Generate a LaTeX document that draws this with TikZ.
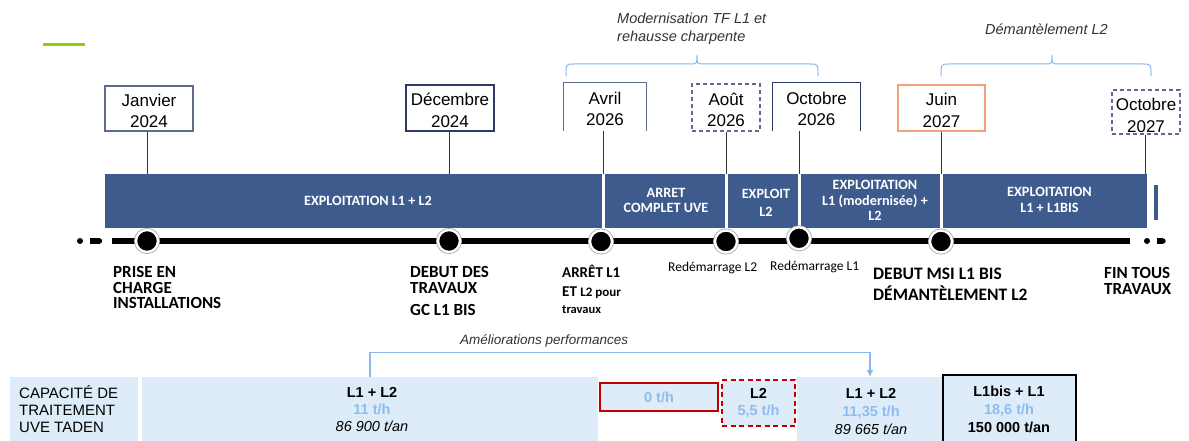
\documentclass[tikz,border=0pt]{standalone}
\usepackage{fontspec}
\setmainfont{Liberation Sans}
\newfontfamily\calib{Carlito}
\usetikzlibrary{arrows.meta}
\newcommand{\myfs}[2]{\fontsize{#1}{#2}\selectfont}
\newcommand{\tstrut}{\rule{0pt}{17.2pt}}
\definecolor{bandblue}{HTML}{3E5B8E}
\definecolor{boxgray}{HTML}{5F6B8E}
\definecolor{boxnavy}{HTML}{2E3968}
\definecolor{orangeb}{HTML}{F2A07C}
\definecolor{cellblue}{HTML}{DEEBF8}
\definecolor{bluetxt}{HTML}{8CBDF2}
\definecolor{bracec}{HTML}{8AB8EC}
\definecolor{redb}{HTML}{C00000}
\definecolor{limeg}{HTML}{99CC00}
\definecolor{itgray}{HTML}{333333}
\begin{document}
\begin{tikzpicture}[x=1pt,y=-1pt,
  datebox/.style={draw=boxgray, line width=1.1pt, inner sep=0, align=center, text=black, font=\myfs{17}{21.5}},
  boxline/.style={draw=boxgray, line width=1.1pt},
  dashbox/.style={dash pattern=on 4pt off 3pt},
  tick/.style={draw=black!80, line width=0.9pt},
  bandtxt/.style={text=white, font=\calib\bfseries\myfs{14.2}{15.5}, align=center, inner sep=0},
  lab/.style={anchor=north west, align=left, inner sep=0, font=\calib\bfseries\myfs{17}{15.5}},
  tcirc/.style={circle, fill=black, minimum size=22, inner sep=0, draw=white, line width=2.4pt,
     preaction={draw=black!35, line width=4pt}},
  brace/.style={draw=bracec, line width=1pt},
  ital/.style={text=itgray, inner sep=0},
  cell/.style={fill=cellblue, inner sep=0},
  amel/.style={draw=bracec, line width=1.1pt, -{Latex[length=7pt,width=7pt]}}
]
\useasboundingbox (0,0) rectangle (1189,441);
\fill[white] (0,0) rectangle (1189,441);

% green mark
\draw[limeg, line width=3pt] (43,44.5) -- (85,44.5);

% braces and their texts
\draw[brace] (566,76) .. controls (566,64) .. (574,64) -- (690,64) .. controls (697,64) .. (697,55)
   .. controls (697,64) .. (704,64) -- (810,64) .. controls (818,64) .. (818,76);
\draw[brace] (941,76) .. controls (941,64) .. (949,64) -- (1045,64) .. controls (1052,64) .. (1052,55)
   .. controls (1052,64) .. (1059,64) -- (1143,64) .. controls (1151,64) .. (1151,76);
\node[ital, anchor=north west, align=left, font=\itshape\myfs{14.5}{18}] (modtxt) at (617,12.4) {Modernisation TF L1 et\\rehausse charpente};
\node[ital, anchor=base west, font=\itshape\myfs{14.5}{18}] (demtxt) at (985,35) {Démantèlement L2};

% date boxes
\node[datebox, minimum width=88, minimum height=45] (jan) at (149,108.5) {\tstrut Janvier\\2024};
\node[datebox, draw=boxnavy, minimum width=88, minimum height=46] (dec) at (450,108) {\tstrut Décembre\\2024};
\node[datebox, draw=none, minimum width=82, minimum height=47] (avr) at (605,106.5) {\tstrut Avril\\2026};
\draw[boxline] (avr.south west) -- (avr.north west) -- (avr.north east) -- (avr.south east);
\node[datebox, dashbox, minimum width=68, minimum height=47] (aou) at (726,107.5) {\tstrut Août\\2026};
\node[datebox, draw=none, minimum width=87, minimum height=47] (oct6) at (816.5,106.5) {\tstrut Octobre\\2026};
\draw[boxline, draw=boxnavy] (oct6.south west) -- (oct6.north west) -- (oct6.north east) -- (oct6.south east);
\node[datebox, draw=orangeb, minimum width=87, minimum height=46] (jun) at (941.5,108) {\tstrut Juin\\2027};
\node[datebox, dashbox, minimum width=68, minimum height=44] (oct7) at (1146,112) {\rule{0pt}{19pt}Octobre\\2027};

% ticks from boxes to band
\coordinate (bjan) at (147,174);
\coordinate (bdec) at (449,174);
\coordinate (bavr) at (603,174);
\coordinate (baou) at (726,174);
\coordinate (boct6) at (799,174);
\coordinate (bjun) at (941,174);
\coordinate (boct7) at (1145,174);
\draw[tick] (jan.south -| bjan) -- (bjan);
\draw[tick] (dec.south -| bdec) -- (bdec);
\draw[tick] (avr.south -| bavr) -- (bavr);
\draw[tick] (aou.south -| baou) -- (baou);
\draw[tick] (oct6.south -| boct6) -- (boct6);
\draw[tick] (jun.south -| bjun) -- (bjun);
\draw[tick] (oct7.south -| boct7) -- (boct7);

% band
\fill[bandblue] (105,174) rectangle (601.5,228);
\fill[bandblue] (604.5,174) rectangle (725,228);
\fill[bandblue] (728,174) rectangle (797.5,228);
\fill[bandblue] (800.5,174) rectangle (939.5,228);
\fill[bandblue] (942.5,174) rectangle (1147,228);
\fill[bandblue] (1154,185) rectangle (1158,220);
\node[bandtxt] (s1) at (368,201) {EXPLOITATION L1 + L2};
\node[bandtxt] (s2) at (666,200.5) {ARRET\\COMPLET UVE};
\node[bandtxt] (s3) at (766,202.5) {EXPLOIT\\[2.5pt]L2};
\node[bandtxt] (s4) at (875,200.5) {EXPLOITATION\\L1 (modernisée) +\\L2};
\node[bandtxt] (s5) at (1049.5,200) {EXPLOITATION\\L1 + L1BIS};

% timeline
\coordinate (tls) at (112,241);
\coordinate (tle) at (1130,241);
\draw[line width=6pt] (tls) -- (tle);
\fill (80,241) circle (3);
\fill (90,238.3) rectangle (99.5,243.7);
\fill (99.5,241) circle (2.7);
\fill (1147,241) circle (3);
\fill (1157,238.3) rectangle (1163,243.7);
\fill (1163,241) circle (2.7);
\node[tcirc] (c1) at (147,241) {};
\node[tcirc] (c2) at (449,241) {};
\node[tcirc] (c3) at (601,241.5) {};
\node[tcirc] (c4) at (726,241.5) {};
\node[tcirc] (c5) at (799,238.3) {};
\node[tcirc] (c6) at (941,241.5) {};

% labels under timeline
\node[lab] (prise) at (113,266.5) {PRISE EN\\CHARGE\\INSTALLATIONS};
\node[lab] (debut) at (410,266.5) {DEBUT DES\\TRAVAUX\\[6.5pt]GC L1 BIS};
\node[lab, font=\calib\bfseries\myfs{15}{15}] (arret) at (562,265.4) {ARRÊT L1\\[4pt]ET {\myfs{13}{15}L2 pour}\\[1.2pt]{\myfs{12.5}{15}travaux}};
\node[anchor=base west, inner sep=0, font=\calib\myfs{13.5}{15}] (red2) at (668,271.2) {Redémarrage L2};
\node[anchor=base west, inner sep=0, font=\calib\myfs{13.5}{15}] (red1) at (770,270.2) {Redémarrage L1};
\node[lab, font=\calib\bfseries\myfs{17.5}{21}] (msi) at (873,267.4) {DEBUT MSI L1 BIS\\DÉMANTÈLEMENT L2};
\node[lab] (fin) at (1104,267.5) {FIN TOUS\\TRAVAUX};

% capacity table
\node[ital, anchor=base west, font=\itshape\myfs{13.5}{16}] (amtxt) at (460,344) {Améliorations performances};
\node[cell, minimum width=128, minimum height=70] (b0) at (74,412) {};
\node[anchor=north west, align=left, inner sep=0, font=\myfs{15}{17}] (captxt) at (19,385) {CAPACITÉ DE\\TRAITEMENT\\UVE TADEN};
\node[cell, minimum width=456, minimum height=70] (b1) at (370,412) {};
\node[anchor=north, align=center, inner sep=0, font=\myfs{14.5}{17}] (t1) at (372,387.3) {\textbf{L1 + L2}\\\textbf{\color{bluetxt}11 t/h}\\\textit{86 900 t/an}};
\node[cell, draw=redb, line width=1.8pt, minimum width=118, minimum height=28, font=\myfs{14.5}{17}] (b2) at (659,397) {\textbf{\color{bluetxt}0 t/h}};
\node[cell, draw=redb, line width=1.8pt, dash pattern=on 5pt off 3.5pt, minimum width=73, minimum height=46, align=center, font=\myfs{14.5}{17}] (b3) at (758.5,403) {\textbf{L2}\\\textbf{\color{bluetxt}5,5 t/h}};
\node[cell, minimum width=146, minimum height=70] (b4) at (870,412) {};
\node[cell, draw=black, line width=2.2pt, minimum width=133, minimum height=72] (b5) at (1009.5,411) {};
\node[anchor=north, align=center, inner sep=0, font=\myfs{14.5}{18}] (t4) at (871,387.8) {\textbf{L1 + L2}\\\textbf{\color{bluetxt}11,35 t/h}\\\textit{89 665 t/an}};
\node[anchor=north, align=center, inner sep=0, font=\myfs{14.5}{18}] (t5) at (1009,385.8) {\textbf{L1bis + L1}\\\textbf{\color{bluetxt}18,6 t/h}\\\textbf{150 000 t/an}};
\draw[amel] (b1.north) -- ++(0,-24) -| (b4.north);
\end{tikzpicture}
\end{document}
